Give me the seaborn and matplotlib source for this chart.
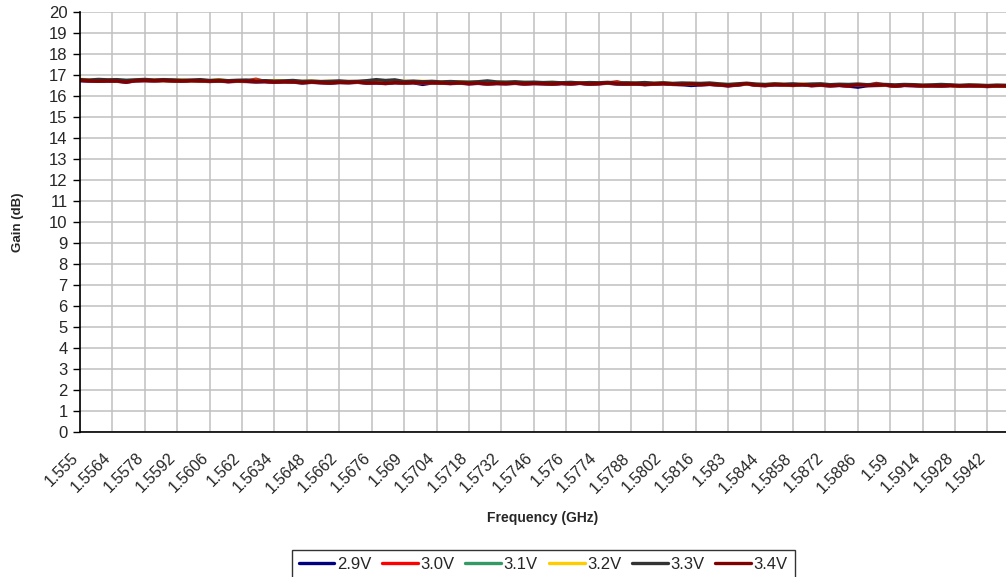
import numpy as np
import pandas as pd
import matplotlib
matplotlib.use("Agg")
import matplotlib.pyplot as plt
import matplotlib.transforms as mtransforms
import seaborn as sns

# frequency points (GHz), one every 0.4 MHz
freq = np.round(1.555 + 0.0004 * np.arange(101), 4)

v29 = [16.73, 16.71, 16.70, 16.71, 16.70, 16.66, 16.72, 16.73, 16.72, 16.73,
       16.71, 16.70, 16.72, 16.71, 16.69, 16.71, 16.68, 16.70, 16.69, 16.67,
       16.68, 16.65, 16.67, 16.66, 16.62, 16.65, 16.63, 16.61, 16.64, 16.63,
       16.65, 16.61, 16.62, 16.59, 16.63, 16.61, 16.63, 16.55, 16.62, 16.61,
       16.59, 16.61, 16.58, 16.60, 16.57, 16.59, 16.58, 16.60, 16.57, 16.59,
       16.58, 16.56, 16.59, 16.57, 16.60, 16.56, 16.58, 16.61, 16.57, 16.56,
       16.57, 16.54, 16.56, 16.58, 16.55, 16.54, 16.50, 16.53, 16.55, 16.52,
       16.48, 16.52, 16.57, 16.51, 16.49, 16.53, 16.52, 16.50, 16.53, 16.49,
       16.51, 16.48, 16.50, 16.47, 16.42, 16.49, 16.50, 16.51, 16.46, 16.50,
       16.49, 16.47, 16.48, 16.47, 16.49, 16.46, 16.48, 16.47, 16.45, 16.47,
       16.46]
v30 = [16.75, 16.73, 16.71, 16.73, 16.72, 16.68, 16.73, 16.74, 16.72, 16.74,
       16.72, 16.71, 16.73, 16.72, 16.70, 16.72, 16.69, 16.71, 16.72, 16.80,
       16.69, 16.67, 16.68, 16.67, 16.64, 16.66, 16.64, 16.63, 16.65, 16.64,
       16.66, 16.63, 16.64, 16.61, 16.64, 16.62, 16.64, 16.61, 16.63, 16.62,
       16.60, 16.62, 16.59, 16.61, 16.58, 16.60, 16.59, 16.61, 16.58, 16.60,
       16.59, 16.57, 16.60, 16.58, 16.61, 16.57, 16.59, 16.62, 16.68, 16.57,
       16.58, 16.55, 16.57, 16.59, 16.56, 16.55, 16.57, 16.54, 16.56, 16.53,
       16.50, 16.53, 16.58, 16.52, 16.50, 16.54, 16.53, 16.51, 16.54, 16.50,
       16.52, 16.49, 16.51, 16.48, 16.53, 16.50, 16.60, 16.52, 16.47, 16.51,
       16.50, 16.48, 16.49, 16.48, 16.50, 16.47, 16.49, 16.48, 16.46, 16.48,
       16.47]
v31 = [16.76, 16.74, 16.72, 16.74, 16.73, 16.70, 16.74, 16.75, 16.73, 16.75,
       16.73, 16.72, 16.74, 16.73, 16.71, 16.73, 16.70, 16.72, 16.71, 16.69,
       16.70, 16.68, 16.69, 16.68, 16.65, 16.67, 16.65, 16.64, 16.66, 16.65,
       16.67, 16.64, 16.65, 16.62, 16.65, 16.63, 16.65, 16.62, 16.64, 16.63,
       16.61, 16.63, 16.60, 16.62, 16.59, 16.61, 16.60, 16.62, 16.59, 16.61,
       16.60, 16.58, 16.61, 16.59, 16.62, 16.58, 16.60, 16.62, 16.59, 16.58,
       16.59, 16.56, 16.58, 16.60, 16.57, 16.56, 16.58, 16.55, 16.57, 16.54,
       16.51, 16.54, 16.58, 16.53, 16.51, 16.55, 16.54, 16.52, 16.55, 16.51,
       16.53, 16.50, 16.52, 16.50, 16.54, 16.51, 16.52, 16.53, 16.48, 16.52,
       16.51, 16.49, 16.50, 16.49, 16.51, 16.48, 16.50, 16.49, 16.47, 16.49,
       16.48]
v32 = [16.80, 16.75, 16.74, 16.76, 16.73, 16.72, 16.75, 16.74, 16.76, 16.73,
       16.74, 16.76, 16.73, 16.74, 16.72, 16.78, 16.71, 16.73, 16.72, 16.74,
       16.71, 16.73, 16.72, 16.70, 16.69, 16.71, 16.68, 16.70, 16.67, 16.69,
       16.68, 16.70, 16.72, 16.71, 16.69, 16.70, 16.68, 16.70, 16.67, 16.68,
       16.66, 16.68, 16.65, 16.67, 16.64, 16.66, 16.65, 16.63, 16.65, 16.62,
       16.63, 16.65, 16.62, 16.61, 16.63, 16.60, 16.62, 16.64, 16.61, 16.60,
       16.61, 16.59, 16.60, 16.62, 16.59, 16.58, 16.60, 16.57, 16.59, 16.56,
       16.54, 16.56, 16.58, 16.55, 16.54, 16.57, 16.55, 16.53, 16.56, 16.54,
       16.55, 16.53, 16.54, 16.52, 16.55, 16.53, 16.54, 16.52, 16.50, 16.53,
       16.52, 16.50, 16.51, 16.52, 16.50, 16.49, 16.51, 16.50, 16.48, 16.50,
       16.49]
v33 = [16.78, 16.76, 16.79, 16.77, 16.78, 16.75, 16.77, 16.79, 16.76, 16.78,
       16.77, 16.75, 16.76, 16.78, 16.74, 16.76, 16.73, 16.75, 16.76, 16.72,
       16.73, 16.71, 16.72, 16.74, 16.70, 16.71, 16.69, 16.70, 16.72, 16.69,
       16.70, 16.73, 16.78, 16.74, 16.77, 16.69, 16.71, 16.68, 16.70, 16.67,
       16.69, 16.67, 16.66, 16.68, 16.72, 16.67, 16.66, 16.68, 16.65, 16.66,
       16.64, 16.65, 16.63, 16.65, 16.62, 16.64, 16.63, 16.65, 16.62, 16.63,
       16.62, 16.64, 16.61, 16.63, 16.60, 16.62, 16.61, 16.60, 16.62, 16.58,
       16.55, 16.58, 16.61, 16.57, 16.55, 16.58, 16.56, 16.58, 16.55, 16.57,
       16.58, 16.54, 16.56, 16.55, 16.57, 16.54, 16.56, 16.55, 16.53, 16.55,
       16.54, 16.52, 16.53, 16.55, 16.53, 16.51, 16.53, 16.52, 16.50, 16.52,
       16.51]
v34 = [16.74, 16.72, 16.70, 16.72, 16.71, 16.66, 16.73, 16.74, 16.73, 16.74,
       16.72, 16.71, 16.73, 16.72, 16.70, 16.72, 16.69, 16.71, 16.70, 16.68,
       16.69, 16.66, 16.68, 16.67, 16.63, 16.66, 16.64, 16.62, 16.65, 16.64,
       16.66, 16.62, 16.63, 16.60, 16.64, 16.62, 16.64, 16.61, 16.63, 16.62,
       16.60, 16.62, 16.59, 16.61, 16.58, 16.60, 16.59, 16.61, 16.58, 16.60,
       16.59, 16.57, 16.60, 16.58, 16.61, 16.57, 16.59, 16.62, 16.58, 16.57,
       16.58, 16.55, 16.57, 16.59, 16.56, 16.55, 16.57, 16.54, 16.56, 16.53,
       16.49, 16.53, 16.58, 16.52, 16.50, 16.54, 16.53, 16.51, 16.54, 16.50,
       16.52, 16.49, 16.51, 16.48, 16.53, 16.50, 16.51, 16.52, 16.47, 16.51,
       16.50, 16.48, 16.49, 16.48, 16.50, 16.47, 16.49, 16.48, 16.46, 16.48,
       16.47]

voltages = ["2.9V", "3.0V", "3.1V", "3.2V", "3.3V", "3.4V"]
colors = ["#000080", "#ff0000", "#339966", "#ffcc00", "#333333", "#800000"]

tick_labels = ["1.555", "1.5564", "1.5578", "1.5592", "1.5606", "1.562",
               "1.5634", "1.5648", "1.5662", "1.5676", "1.569", "1.5704",
               "1.5718", "1.5732", "1.5746", "1.576", "1.5774", "1.5788",
               "1.5802", "1.5816", "1.583", "1.5844", "1.5858", "1.5872",
               "1.5886", "1.59", "1.5914", "1.5928", "1.5942"]

# long-form table for seaborn
df = pd.DataFrame({"freq": freq, "2.9V": v29, "3.0V": v30, "3.1V": v31,
                   "3.2V": v32, "3.3V": v33, "3.4V": v34})
df = df.melt(id_vars="freq", var_name="voltage", value_name="gain")

sns.set_style("white")
plt.rcParams["font.family"] = ["Liberation Sans", "DejaVu Sans"]

fig = plt.figure(figsize=(10.06, 5.77), dpi=100)
ax = fig.add_axes([80 / 1006, 1 - 432 / 577, 1 - 80 / 1006, 420 / 577])

sns.lineplot(data=df, x="freq", y="gain", hue="voltage", hue_order=voltages,
             palette=colors, linewidth=2.4, ax=ax, legend=False)

ax.set_xlim(1.555, 1.595)
ax.set_ylim(0, 20)
ax.set_yticks(range(0, 21))
ax.set_xticks([float(t) for t in tick_labels])
ax.set_xticklabels(tick_labels, rotation=45, ha="right", va="center",
                   rotation_mode="anchor")
ax.tick_params(axis="y", labelsize=12, length=5, width=1, color="black",
               direction="out", left=True, pad=4)
ax.tick_params(axis="x", labelsize=11.5, length=0, pad=17)

# nudge the slanted labels a little to the left, like the original
shift = mtransforms.ScaledTranslation(-4 / 100, 0, fig.dpi_scale_trans)
for lbl in ax.get_xticklabels():
    lbl.set_transform(lbl.get_transform() + shift)

ax.grid(True, color="#c0c0c0", linewidth=1.1)
ax.set_axisbelow(True)

for side in ["top", "right"]:
    ax.spines[side].set_visible(False)
for side in ["left", "bottom"]:
    ax.spines[side].set_color("black")
    ax.spines[side].set_linewidth(1.2)

ax.set_xlabel("Frequency (GHz)", fontsize=10, fontweight="bold")
ax.set_ylabel("Gain (dB)", fontsize=9.5, fontweight="bold")
ax.xaxis.set_label_coords(0.5, -0.187)
ax.yaxis.set_label_coords(-0.061, 0.5)

handles = [plt.Line2D([], [], color=c, linewidth=2.4) for c in colors]
leg = fig.legend(handles, voltages, loc="center", bbox_to_anchor=(0.54, 0.022),
                 ncol=6, fontsize=12, frameon=True, fancybox=False,
                 handlelength=2.15, handletextpad=0.15, columnspacing=0.65,
                 borderpad=0.4)
leg.get_frame().set_edgecolor("black")
leg.get_frame().set_linewidth(1.0)

fig.savefig("out.png", dpi=100)
